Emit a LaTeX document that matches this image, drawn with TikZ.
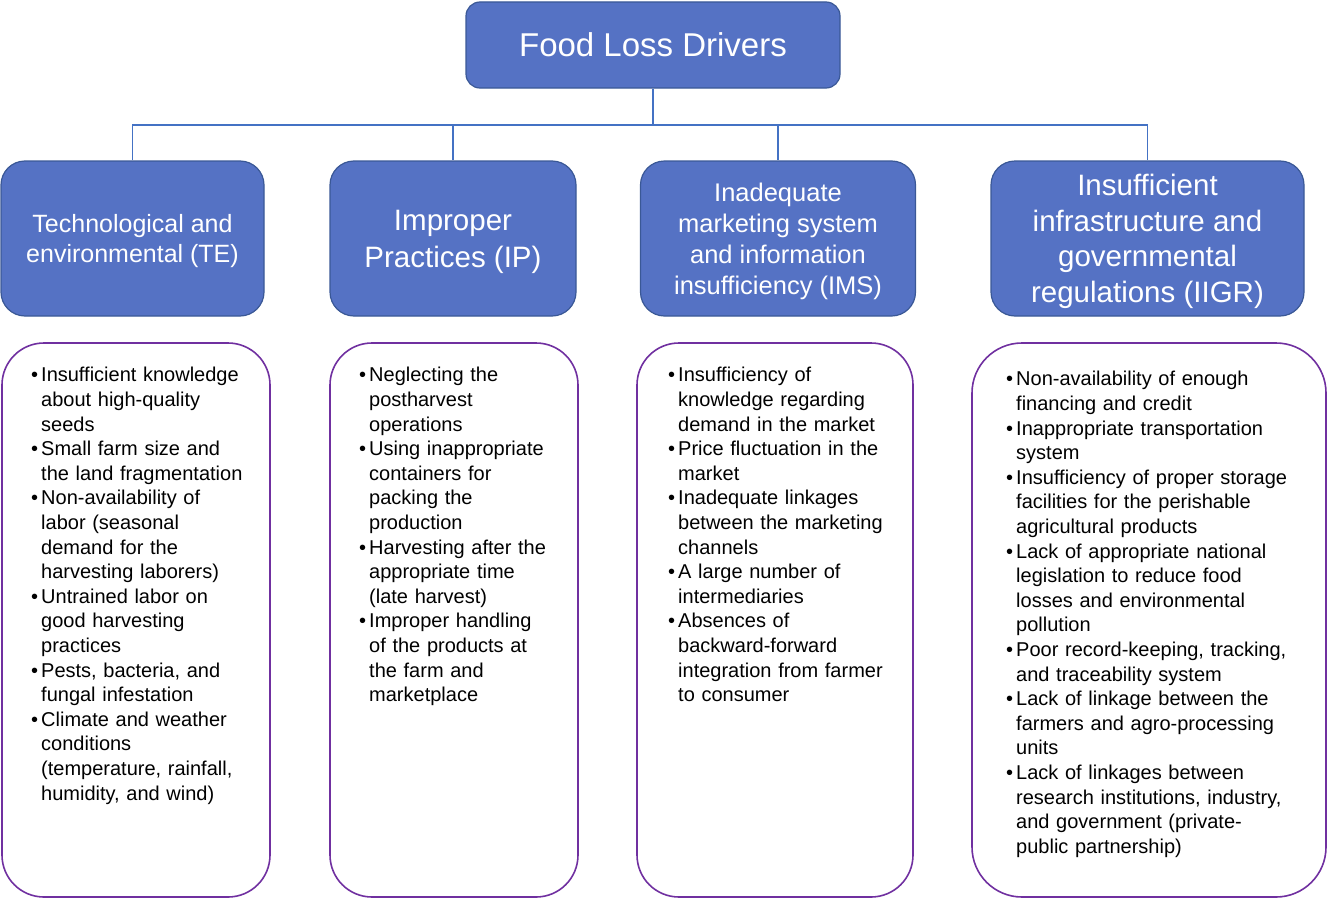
\documentclass[tikz,border=0pt]{standalone}
\usepackage{fontspec}
\setmainfont{Liberation Sans}
\usepackage{xcolor}
\usepackage{tikz}
\usetikzlibrary{calc}
\usetikzlibrary{positioning}
\definecolor{catblue}{HTML}{5572C4}
\definecolor{catedge}{HTML}{3A5896}
\definecolor{linkblue}{HTML}{4472C4}
\definecolor{lstpurple}{HTML}{7030A0}
\tikzstyle{drv} = [rectangle, rounded corners=14pt, fill=catblue, draw=catedge, line width=1.2pt, text=white, inner sep=0pt, align=center]
\tikzstyle{cat} = [drv, rounded corners=24pt, minimum height=155pt, text depth=-4pt]
\tikzstyle{lst} = [rectangle, rounded corners=42pt, draw=lstpurple, line width=1.6pt, minimum height=554pt, inner sep=0pt]
\tikzstyle{ltxt} = [anchor=north west, inner sep=0pt, align=left, font=\fontsize{20}{24.6}\selectfont]
\tikzstyle{link} = [-, draw=linkblue, line width=1.2pt]
\newcommand{\litem}[1]{\par\noindent\llap{\textbullet\hskip3pt}#1}

\begin{document}
\begin{tikzpicture}[x=1pt, y=-1pt]
\useasboundingbox (0,0) rectangle (1327,899);
\node [drv, minimum width=374pt, minimum height=86pt, font=\fontsize{33}{40}\selectfont] (top) at (653,45) {Food Loss Drivers};
\coordinate (bus) at (653,125);
% categories
\node [cat, minimum width=263pt, font=\fontsize{25}{30}\selectfont] (te) at (132.5,238.5) {Technological and\\environmental (TE)};
\node [cat, minimum width=246pt, font=\fontsize{29.5}{37}\selectfont] (ip) at (453,238.5) {Improper\\Practices (IP)};
\node [cat, minimum width=275pt, font=\fontsize{25.5}{31}\selectfont] (ims) at (778,238.5) {Inadequate\\marketing system\\and information\\insufficiency (IMS)};
\node [cat, minimum width=313pt, font=\fontsize{29.5}{35.5}\selectfont] (iigr) at (1147.5,238.5) {Insufficient\\infrastructure and\\governmental\\regulations (IIGR)};
\draw [link] (top.south) to (bus);
\draw [link] (bus) -| (te.north);
\draw [link] (bus) -| (ip.north);
\draw [link] (bus) -| (ims.north);
\draw [link] (bus) -| (iigr.north);
% lists
\node [lst, minimum width=268pt] (teBox) at (136,620) {};
\node [lst, minimum width=248pt] (ipBox) at (454,620) {};
\node [lst, minimum width=276pt] (imsBox) at (775,620) {};
\node [lst, rounded corners=50pt, minimum width=354pt] (iigrBox) at (1149,620) {};
\node [ltxt, text width=220pt] (teList) at (41,357) {%
\litem{Insufficient knowledge\\about high-quality\\seeds}%
\litem{Small farm size and\\the land fragmentation}%
\litem{Non-availability of\\labor (seasonal\\demand for the\\harvesting laborers)}%
\litem{Untrained labor on\\good harvesting\\practices}%
\litem{Pests, bacteria, and\\fungal infestation}%
\litem{Climate and weather\\conditions\\(temperature, rainfall,\\humidity, and wind)}};
\node [ltxt, text width=200pt] (ipList) at (369,357) {%
\litem{Neglecting the\\postharvest\\operations}%
\litem{Using inappropriate\\containers for\\packing the\\production}%
\litem{Harvesting after the\\appropriate time\\(late harvest)}%
\litem{Improper handling\\of the products at\\the farm and\\marketplace}};
\node [ltxt, text width=220pt] (imsList) at (678,357) {%
\litem{Insufficiency of\\knowledge regarding\\demand in the market}%
\litem{Price fluctuation in the\\market}%
\litem{Inadequate linkages\\between the marketing\\channels}%
\litem{A large number of\\intermediaries}%
\litem{Absences of\\backward-forward\\integration from farmer\\to consumer}};
\node [ltxt, text width=290pt] (iigrList) at (1016,361) {%
\litem{Non-availability of enough\\financing and credit}%
\litem{Inappropriate transportation\\system}%
\litem{Insufficiency of proper storage\\facilities for the perishable\\agricultural products}%
\litem{Lack of appropriate national\\legislation to reduce food\\losses and environmental\\pollution}%
\litem{Poor record-keeping, tracking,\\and traceability system}%
\litem{Lack of linkage between the\\farmers and agro-processing\\units}%
\litem{Lack of linkages between\\research institutions, industry,\\and government (private-\\public partnership)}};
\end{tikzpicture}
\end{document}
